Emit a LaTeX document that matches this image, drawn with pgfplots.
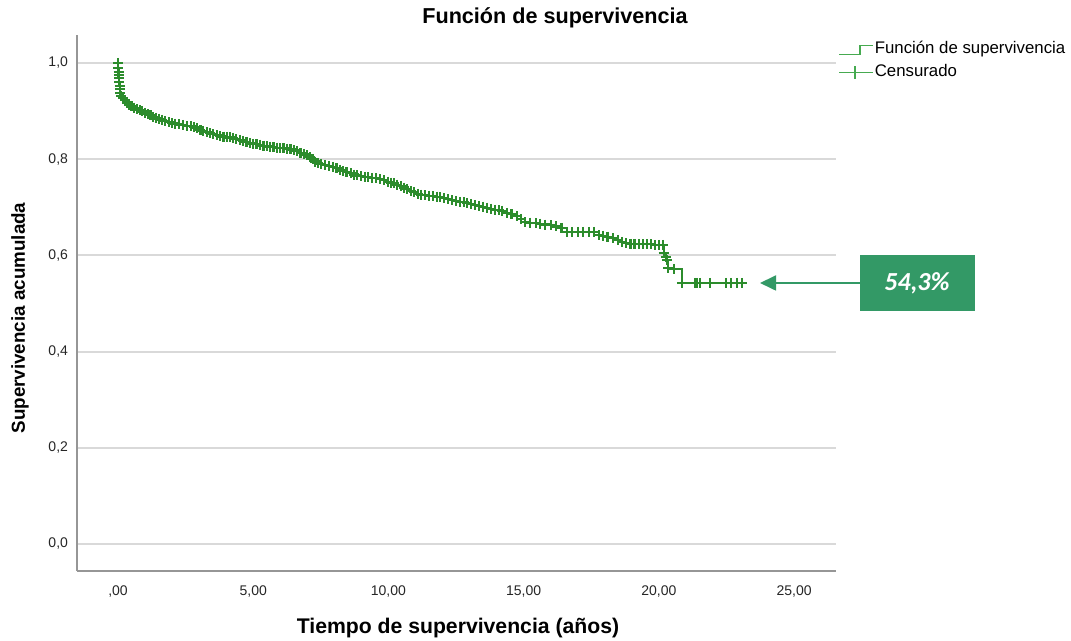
\documentclass[border=0pt]{standalone}
\usepackage{fontspec}
\setmainfont{Liberation Sans}
\newfontfamily\carlito{Carlito}
\usepackage{pgfplots}
\pgfplotsset{compat=1.18}
\usetikzlibrary{arrows.meta}
\definecolor{km}{RGB}{44,140,44}
\definecolor{leg}{RGB}{70,170,80}
\definecolor{boxc}{RGB}{51,153,102}
\definecolor{gridc}{RGB}{217,217,217}
\definecolor{spine}{RGB}{150,150,150}
\begin{document}
\begin{tikzpicture}
\useasboundingbox (0pt,0pt) rectangle (535.5pt,320.5pt);
\begin{axis}[
  at={(38.5pt,35pt)}, anchor=south west, scale only axis,
  width=379.5pt, height=268pt,
  xmin=-1.516, xmax=26.55, ymin=-0.0561, ymax=1.058,
  axis x line*=bottom, axis y line*=left,
  axis line style={-, draw=spine, line width=0.7pt},
  xtick={0,5,10,15,20,25},
  xticklabels={{,00},{5,00},{10,00},{15,00},{20,00},{25,00}},
  ytick={0,0.2,0.4,0.6,0.8,1.0},
  yticklabels={{0,0},{0,2},{0,4},{0,6},{0,8},{1,0}},
  ymajorgrids, grid style={gridc, line width=1pt},
  major tick length=0pt,
  tick label style={font=\fontsize{7}{8}\selectfont, text=black!85},
  xticklabel style={yshift=-4pt},
  yticklabel style={xshift=-1pt},
  legend style={at={(axis description cs:1,1)}, anchor=north west, xshift=1pt, yshift=-2.5pt,
    draw=none, fill=none, inner sep=0pt, row sep=2.5pt,
    font=\fontsize{8.4}{9}\selectfont,
    nodes={inner sep=0.5pt, text height=6pt, text depth=2pt}},
  legend cell align=left,
]
\addlegendimage{legend image code/.code={\draw[leg, line width=0.7pt] (0pt,-2.5pt) -- (10.5pt,-2.5pt) -- (10.5pt,2pt) -- (17pt,2pt);}}
\addlegendentry{Función de supervivencia}
\addlegendimage{legend image code/.code={\draw[leg, line width=0.7pt] (0pt,0pt) -- (17pt,0pt); \draw[leg, line width=0.7pt] (8pt,-3.2pt) -- (8pt,3.2pt);}}
\addlegendentry{Censurado}
\addplot[const plot, km, line width=1pt, mark=+, mark size=2.5pt, mark options={line width=1.05pt, solid}, forget plot] table {
t S
0.00 1.000
0.01 0.990
0.02 0.982
0.03 0.975
0.04 0.968
0.05 0.960
0.06 0.952
0.07 0.945
0.09 0.938
0.12 0.932
0.18 0.927
0.25 0.922
0.33 0.917
0.42 0.913
0.50 0.910
0.60 0.907
0.70 0.904
0.81 0.902
0.90 0.899
1.00 0.896
1.10 0.893
1.20 0.891
1.30 0.888
1.40 0.886
1.50 0.884
1.62 0.882
1.75 0.879
1.88 0.877
2.00 0.875
2.12 0.874
2.25 0.872
2.40 0.871
2.55 0.869
2.70 0.868
2.80 0.867
2.92 0.864
3.05 0.861
3.15 0.858
3.28 0.856
3.40 0.854
3.52 0.852
3.65 0.850
3.78 0.848
3.90 0.847
4.02 0.846
4.15 0.845
4.25 0.844
4.38 0.842
4.50 0.840
4.62 0.838
4.75 0.836
4.88 0.834
5.00 0.832
5.12 0.831
5.25 0.830
5.38 0.828
5.50 0.827
5.62 0.826
5.75 0.825
5.88 0.824
6.00 0.823
6.12 0.823
6.25 0.822
6.38 0.820
6.50 0.818
6.62 0.816
6.75 0.813
6.88 0.811
7.00 0.808
7.10 0.804
7.20 0.800
7.30 0.795
7.40 0.792
7.52 0.790
7.65 0.788
7.80 0.786
7.95 0.784
8.08 0.781
8.20 0.778
8.32 0.775
8.45 0.773
8.60 0.771
8.72 0.768
8.85 0.766
9.00 0.764
9.12 0.763
9.25 0.762
9.40 0.761
9.55 0.760
9.70 0.758
9.85 0.756
10.00 0.753
10.10 0.751
10.20 0.750
10.32 0.747
10.45 0.744
10.58 0.741
10.70 0.737
10.82 0.734
10.95 0.731
11.08 0.728
11.20 0.726
11.35 0.725
11.50 0.724
11.65 0.723
11.80 0.722
11.90 0.721
12.05 0.719
12.20 0.717
12.35 0.715
12.50 0.713
12.65 0.711
12.80 0.710
12.90 0.709
13.05 0.707
13.20 0.705
13.35 0.703
13.50 0.701
13.65 0.699
13.80 0.697
13.95 0.695
14.10 0.694
14.20 0.693
14.40 0.688
14.55 0.685
14.75 0.681
14.90 0.676
15.05 0.669
15.25 0.668
15.45 0.667
15.60 0.666
15.80 0.664
16.00 0.663
16.20 0.660
16.40 0.657
16.60 0.649
16.80 0.649
17.00 0.649
17.20 0.649
17.40 0.649
17.60 0.649
17.80 0.642
17.95 0.641
18.10 0.639
18.30 0.636
18.50 0.632
18.65 0.628
18.80 0.625
18.95 0.624
19.10 0.624
19.25 0.624
19.40 0.623
19.55 0.623
19.70 0.623
19.85 0.622
20.00 0.622
20.15 0.622
20.18 0.605
20.25 0.597
20.30 0.590
20.35 0.574
20.55 0.572
20.85 0.543
21.34 0.543
21.40 0.543
21.52 0.543
21.90 0.543
22.48 0.543
22.66 0.543
22.88 0.543
23.07 0.543
};
\end{axis}
\node[font=\bfseries\fontsize{10.8}{12}\selectfont] at (277.5pt,311.5pt) {Función de supervivencia};
\node[font=\bfseries\fontsize{10.6}{12}\selectfont] at (229pt,6.5pt) {Tiempo de supervivencia (años)};
\node[font=\bfseries\fontsize{9.4}{12}\selectfont, rotate=90] at (10pt,161.5pt) {Supervivencia acumulada};
\fill[boxc] (430pt,165pt) rectangle (487.5pt,193pt);
\node[text=white, font=\carlito\bfseries\itshape\fontsize{13}{15}\selectfont] at (458.5pt,179pt) {54,3\%};
\draw[boxc, line width=0.9pt, -{Triangle[length=8pt,width=7.5pt]}] (430pt,179pt) -- (380pt,179pt);
\end{tikzpicture}
\end{document}
